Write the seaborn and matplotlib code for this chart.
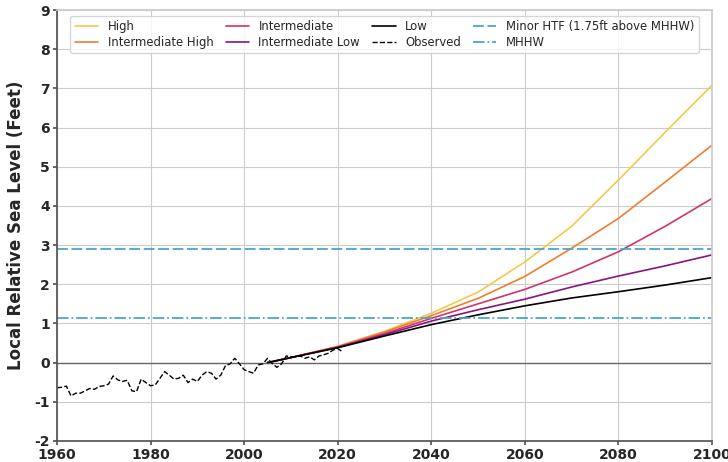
import matplotlib
matplotlib.use("Agg")
import matplotlib.pyplot as plt
import seaborn as sns
import pandas as pd

proj_years = [2005, 2010, 2020, 2030, 2040, 2050, 2060, 2070, 2080, 2090, 2100]
high = [0.0, 0.13, 0.42, 0.80, 1.26, 1.80, 2.57, 3.48, 4.66, 5.88, 7.08]
int_high = [0.0, 0.13, 0.41, 0.78, 1.20, 1.64, 2.20, 2.92, 3.68, 4.61, 5.55]
intermediate = [0.0, 0.13, 0.40, 0.74, 1.13, 1.50, 1.87, 2.31, 2.83, 3.48, 4.19]
int_low = [0.0, 0.13, 0.39, 0.71, 1.06, 1.35, 1.62, 1.93, 2.21, 2.47, 2.75]
low = [0.0, 0.13, 0.38, 0.68, 0.97, 1.22, 1.45, 1.65, 1.81, 1.98, 2.17]

obs_years = list(range(1960, 2022))
observed = [-0.64, -0.63, -0.60, -0.85, -0.78, -0.78, -0.72, -0.66, -0.68, -0.61,
            -0.59, -0.55, -0.34, -0.44, -0.48, -0.45, -0.72, -0.74, -0.42, -0.51,
            -0.59, -0.57, -0.40, -0.23, -0.32, -0.42, -0.40, -0.32, -0.51, -0.42,
            -0.48, -0.32, -0.23, -0.27, -0.42, -0.32, -0.08, -0.03, 0.11, -0.03,
            -0.18, -0.23, -0.27, -0.06, -0.03, 0.11, -0.02, -0.12, -0.03, 0.17,
            0.15, 0.15, 0.17, 0.11, 0.15, 0.07, 0.17, 0.20, 0.24, 0.32,
            0.36, 0.28]

mhhw = 1.14
minor_htf = 2.89

sns.set_theme(style="whitegrid")
plt.rcParams['font.family'] = ['DejaVu Sans']
plt.rcParams['axes.unicode_minus'] = False

fig = plt.figure(figsize=(7.28, 4.62), dpi=100)
ax = fig.add_axes([57/728, 21/462, 655/728, 431/462])

series = [("High", high, "#f2c94c"),
          ("Intermediate High", int_high, "#ee7d32"),
          ("Intermediate", intermediate, "#d1336b"),
          ("Intermediate Low", int_low, "#85157f"),
          ("Low", low, "#000000")]

ax.axhline(0, color="#666666", lw=1.0, zorder=1)
for name, vals, col in series:
    df = pd.DataFrame({"year": proj_years, "val": vals})
    sns.lineplot(data=df, x="year", y="val", ax=ax, color=col, lw=1.2, label=name)

dfo = pd.DataFrame({"year": obs_years, "val": observed})
sns.lineplot(data=dfo, x="year", y="val", ax=ax, color="black", lw=1.0,
             linestyle="--", label="Observed")
ax.axhline(minor_htf, color="#4aa6c8", lw=1.3, linestyle=(0, (6, 2)),
           label="Minor HTF (1.75ft above MHHW)")
ax.axhline(mhhw, color="#4aa6c8", lw=1.3, linestyle="-.", label="MHHW")

ax.set_xlim(1960, 2100)
ax.set_ylim(-2, 9)
ax.set_xticks([1960, 1980, 2000, 2020, 2040, 2060, 2080, 2100])
ax.set_yticks(range(-2, 10))
ax.set_xlabel("")
ax.set_ylabel("Local Relative Sea Level (Feet)", fontsize=12, fontweight="bold", labelpad=7)
for lab in ax.get_xticklabels() + ax.get_yticklabels():
    lab.set_fontweight("bold")
    lab.set_fontsize(10)
ax.tick_params(axis="both", length=3, pad=2, color="#555555")
ax.tick_params(axis="both", which="both", bottom=True, left=True)
ax.grid(True, color="#cccccc", lw=0.8)
for s in ["left", "bottom"]:
    ax.spines[s].set_color("#555555")
for s in ["top", "right"]:
    ax.spines[s].set_color("#cccccc")

h, l = ax.get_legend_handles_labels()
order = ["High", "Intermediate High", "Intermediate", "Intermediate Low", "Low",
         "Observed", "Minor HTF (1.75ft above MHHW)", "MHHW"]
hd = dict(zip(l, h))
ax.legend([hd[k] for k in order], order, ncol=4, loc="upper center",
          bbox_to_anchor=(0.5, 0.995), fontsize=8.4, frameon=True,
          columnspacing=1.05, handlelength=2.0, borderaxespad=0.3,
          labelspacing=0.2)

fig.savefig("out.png", dpi=100)
